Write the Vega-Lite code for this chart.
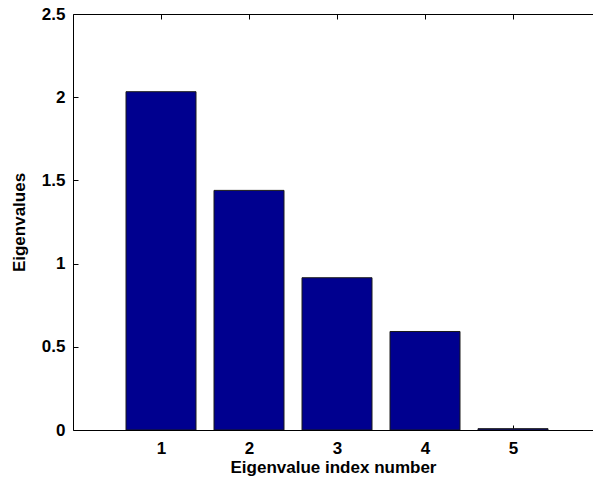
{
  "$schema": "https://vega.github.io/schema/vega-lite/v6.json",
  "width": 520,
  "height": 416,
  "autosize": "none",
  "padding": {"left": 73, "top": 14, "right": 0, "bottom": 55},
  "background": "white",
  "config": {
    "view": {"stroke": null},
    "axis": {
      "grid": false,
      "domainColor": "black",
      "domainWidth": 1,
      "tickColor": "black",
      "tickWidth": 1,
      "labelColor": "black",
      "titleColor": "black",
      "labelFont": "Liberation Sans",
      "titleFont": "Liberation Sans",
      "labelFontWeight": "bold",
      "titleFontWeight": "bold",
      "labelFontSize": 17,
      "titleFontSize": 17
    }
  },
  "data": {
    "values": [
      {"index": 1, "eigenvalue": 2.033},
      {"index": 2, "eigenvalue": 1.44},
      {"index": 3, "eigenvalue": 0.915},
      {"index": 4, "eigenvalue": 0.592},
      {"index": 5, "eigenvalue": 0.008}
    ]
  },
  "layer": [
    {
      "mark": {"type": "bar", "size": 70, "fill": "#00008F", "stroke": "#1a1a1a", "strokeWidth": 1, "clip": true},
      "encoding": {
        "x": {
          "field": "index",
          "type": "quantitative",
          "scale": {"domain": [0, 5.909], "nice": false, "zero": false, "padding": 0},
          "axis": {
            "orient": "bottom",
            "values": [1, 2, 3, 4, 5],
            "title": "Eigenvalue index number",
            "tickSize": -5,
            "labelPadding": 15,
            "titlePadding": 3,
            "labelFlush": false
          }
        },
        "y": {
          "field": "eigenvalue",
          "type": "quantitative",
          "scale": {"domain": [0, 2.5], "nice": false, "padding": 0},
          "axis": {
            "values": [0, 0.5, 1, 1.5, 2, 2.5],
            "format": "~g",
            "title": "Eigenvalues",
            "tickSize": -5,
            "labelPadding": 13,
            "titlePadding": 13,
            "labelFlush": false
          }
        }
      }
    },
    {
      "mark": {"type": "point", "opacity": 0},
      "encoding": {
        "x": {
          "field": "index",
          "type": "quantitative",
          "scale": {"domain": [0, 5.909], "nice": false, "zero": false, "padding": 0},
          "axis": {
            "orient": "top",
            "values": [1, 2, 3, 4, 5],
            "labels": false,
            "title": null,
            "tickSize": -5
          }
        },
        "y": {"field": "eigenvalue", "type": "quantitative", "scale": {"domain": [0, 2.5], "nice": false, "padding": 0}}
      }
    }
  ],
  "resolve": {"axis": {"x": "independent"}}
}
